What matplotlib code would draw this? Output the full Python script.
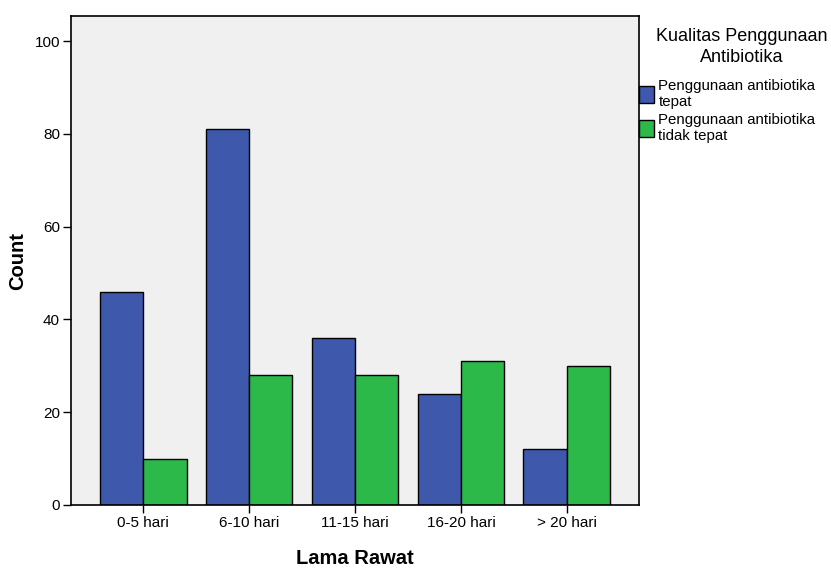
import numpy as np
import matplotlib.pyplot as plt
from matplotlib.patches import Patch

plt.rcParams['font.family'] = ['Liberation Sans', 'DejaVu Sans']

categories = ['0-5 hari', '6-10 hari', '11-15 hari', '16-20 hari', '> 20 hari']
tepat = [46, 81, 36, 24, 12]
tidak_tepat = [10, 28, 28, 31, 30]

blue = '#3E58AC'
green = '#2DB84A'

fig = plt.figure(figsize=(8.31, 5.68), dpi=100)
ax = fig.add_axes([71 / 831, 63 / 568, 568 / 831, 489 / 568])
ax.set_facecolor('#F0F0F0')

x = np.arange(len(categories))
w = 0.41
ax.bar(x - w / 2, tepat, w, color=blue, edgecolor='black', linewidth=1)
ax.bar(x + w / 2, tidak_tepat, w, color=green, edgecolor='black', linewidth=1)

ax.set_xlim(-0.68, 4.68)
ax.set_ylim(0, 105.4)
ax.set_yticks([0, 20, 40, 60, 80, 100])
ax.set_xticks(x)
ax.set_xticklabels(categories)
ax.tick_params(axis='both', direction='out', length=6, width=1, labelsize=11,
               colors='black', pad=2)
for s in ax.spines.values():
    s.set_linewidth(1.2)

fig.text(18 / 831, 1 - 261 / 568, 'Count', rotation=90, ha='center', va='center',
         fontsize=14.5, fontweight='bold')
fig.text(355 / 831, 1 - 559 / 568, 'Lama Rawat', ha='center', va='center',
         fontsize=14.5, fontweight='bold')

fig.text(742 / 831, 1 - 47 / 568, 'Kualitas Penggunaan\nAntibiotika', ha='center', va='center',
         fontsize=13, linespacing=1.25)
handles = [Patch(facecolor=blue, edgecolor='black', label='Penggunaan antibiotika\ntepat'),
           Patch(facecolor=green, edgecolor='black', label='Penggunaan antibiotika\ntidak tepat')]
fig.legend(handles=handles, loc='upper left', bbox_to_anchor=(639 / 831, 1 - 79 / 568),
           frameon=False, fontsize=10.8, handlelength=1.0, handleheight=1.3, handletextpad=0.3,
           labelspacing=0.25, borderaxespad=0, borderpad=0)

fig.savefig('out.png', dpi=100)
